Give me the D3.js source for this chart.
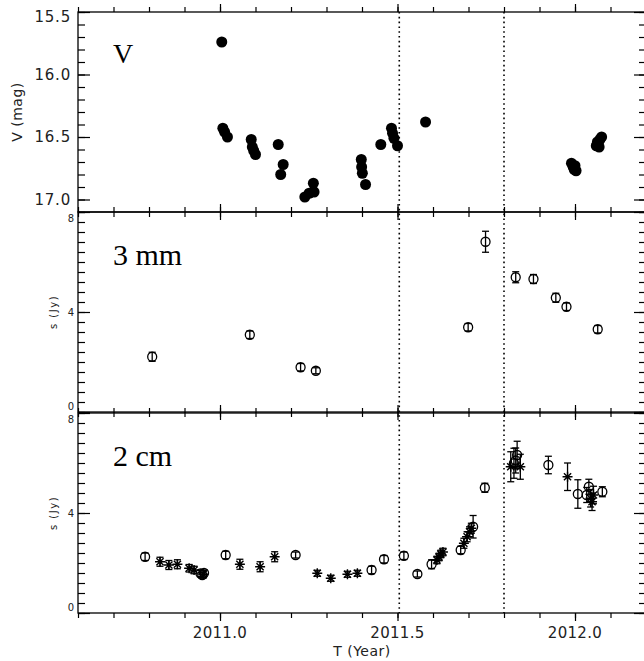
<!DOCTYPE html>
<html>
<head>
<meta charset="utf-8">
<script src="https://cdn.jsdelivr.net/npm/d3@7"></script>
<style>
  body { margin: 0; background: #fff; }
  text { font-family: "DejaVu Sans", sans-serif; fill: #222; }
  .lbl { font-family: "Liberation Serif", serif; fill: #000; }
</style>
</head>
<body>
<svg id="chart" width="644" height="661"></svg>
<script>
const width = 644;
const height = 661;

// V band magnitudes
const vTime = [2011.005, 2011.008, 2011.013, 2011.021, 2011.088, 2011.091, 2011.095, 2011.100,
    2011.164, 2011.178, 2011.171, 2011.239, 2011.251, 2011.265, 2011.263,
    2011.398, 2011.399, 2011.401, 2011.410, 2011.453, 2011.483, 2011.486, 2011.490, 2011.500,
    2011.579, 2011.990, 2011.995, 2012.000, 2012.003, 2011.998,
    2012.060, 2012.065, 2012.070, 2012.075, 2012.068, 2012.063];
const vMag = [15.74, 16.43, 16.46, 16.50, 16.52, 16.58, 16.61, 16.64,
    16.56, 16.72, 16.80, 16.98, 16.95, 16.94, 16.87,
    16.68, 16.74, 16.79, 16.88, 16.56, 16.43, 16.47, 16.51, 16.57,
    16.38, 16.71, 16.74, 16.73, 16.77, 16.76,
    16.57, 16.55, 16.52, 16.50, 16.58, 16.54];

// 3 mm flux density
const mm3Time = [2010.809, 2011.084, 2011.227, 2011.270, 2011.699, 2011.748, 2011.833, 2011.883, 2011.946, 2011.976, 2012.064];
const mm3Flux = [2.21, 3.09, 1.79, 1.65, 3.39, 6.81, 5.39, 5.32, 4.57, 4.21, 3.31];
const mm3Err = [0.18, 0.15, 0.15, 0.12, 0.15, 0.42, 0.22, 0.18, 0.18, 0.15, 0.15];

// 2 cm flux density ("o" and "*" are two data sets)
const cm2Time = [2010.789, 2010.831, 2010.856, 2010.880, 2010.913, 2010.927, 2010.945, 2010.950, 2010.953, 2010.955,
    2011.016, 2011.056, 2011.113, 2011.154, 2011.213, 2011.274, 2011.312, 2011.359, 2011.387,
    2011.427, 2011.462, 2011.518, 2011.556, 2011.596, 2011.611, 2011.617, 2011.622, 2011.628,
    2011.678, 2011.687, 2011.696, 2011.703, 2011.708, 2011.713, 2011.746,
    2011.819, 2011.828, 2011.837, 2011.833, 2011.846, 2011.925, 2011.979, 2012.008,
    2012.039, 2012.033, 2012.044, 2012.048, 2012.052, 2012.077];
const cm2Flux = [2.25, 2.05, 1.92, 1.95, 1.79, 1.72, 1.58, 1.52, 1.55, 1.60,
    2.32, 1.95, 1.85, 2.25, 2.32, 1.59, 1.39, 1.55, 1.59,
    1.72, 2.15, 2.29, 1.56, 1.95, 2.12, 2.24, 2.36, 2.44,
    2.52, 2.79, 3.05, 3.25, 3.39, 3.45, 5.01,
    5.85, 5.99, 6.32, 6.10, 5.85, 5.92, 5.45, 4.76,
    5.05, 4.72, 4.59, 4.45, 4.72, 4.85];
const cm2Err = [0.15, 0.18, 0.18, 0.18, 0.15, 0.15, 0.12, 0.12, 0.15, 0.12,
    0.15, 0.2, 0.2, 0.2, 0.12, 0.12, 0.12, 0.12, 0.12,
    0.15, 0.15, 0.15, 0.12, 0.18, 0.15, 0.15, 0.15, 0.15,
    0.15, 0.2, 0.2, 0.2, 0.2, 0.45, 0.18,
    0.6, 0.6, 0.55, 0.5, 0.5, 0.35, 0.55, 0.57,
    0.3, 0.3, 0.35, 0.35, 0.35, 0.2];
const cm2Type = ["o", "*", "*", "*", "*", "*", "o", "o", "*", "o",
    "o", "*", "*", "*", "o", "*", "*", "*", "*",
    "o", "o", "o", "o", "o", "*", "*", "*", "*",
    "o", "*", "*", "*", "*", "o", "o",
    "*", "o", "o", "o", "*", "o", "*", "o",
    "o", "o", "*", "*", "*", "o"];

const xTicks = [2011.0, 2011.5, 2012.0];
const xTickLabels = ["2011.0", "2011.5", "2012.0"];
const vTicks = [15.5, 16.0, 16.5, 17.0];
const vTickLabels = ["15.5", "16.0", "16.5", "17.0"];
const sTicks = [0, 4, 8];
const markerLines = [2011.505, 2011.80];

const svg = d3.select("#chart");
svg.append("rect").attr("width", width).attr("height", height).attr("fill", "#fff");

const left = 78, right = 646;
const x = d3.scaleLinear().domain([2010.6, 2012.2]).range([left, right]);

const panels = [
    { top: 12, bottom: 212, y: d3.scaleLinear().domain([15.5, 17.1]).range([12, 212]),
      major: vTicks, minor: d3.range(15.5, 17.101, 0.1), labels: vTickLabels, label: "V" },
    { top: 212, bottom: 412, y: d3.scaleLinear().domain([0, 8]).range([412, 212]),
      major: sTicks, minor: d3.range(0, 8.01, 0.4), labels: sTicks.map(String), label: "3 mm" },
    { top: 413, bottom: 613, y: d3.scaleLinear().domain([0, 8]).range([613, 413]),
      major: sTicks, minor: d3.range(0, 8.01, 0.4), labels: sTicks.map(String), label: "2 cm" }
];

const xMinor = d3.range(2010.6, 2012.201, 0.1);

function styleAxis(g) {
    g.select(".domain").remove();
    g.selectAll(".tick line").attr("stroke", "#000").attr("stroke-width", 1.2);
}

panels.forEach((p, i) => {
    // frame
    svg.append("rect")
        .attr("x", left).attr("y", p.top)
        .attr("width", right - left).attr("height", p.bottom - p.top)
        .attr("fill", "none").attr("stroke", "#000").attr("stroke-width", 1.3);

    // x ticks, inward on both edges
    [[d3.axisBottom, p.top], [d3.axisTop, p.bottom]].forEach(([ax, yy]) => {
        svg.append("g").attr("transform", `translate(0,${yy})`)
            .call(ax(x).tickValues(xMinor).tickSize(-5).tickFormat(""))
            .call(styleAxis);
        svg.append("g").attr("transform", `translate(0,${yy})`)
            .call(ax(x).tickValues(xTicks).tickSize(-8).tickFormat(""))
            .call(styleAxis);
    });

    // y ticks, inward on both edges
    svg.append("g").attr("transform", `translate(${left},0)`)
        .call(d3.axisLeft(p.y).tickValues(p.minor).tickSize(-7).tickFormat(""))
        .call(styleAxis);
    svg.append("g").attr("transform", `translate(${right},0)`)
        .call(d3.axisRight(p.y).tickValues(p.minor).tickSize(-7).tickFormat(""))
        .call(styleAxis);
    svg.append("g").attr("transform", `translate(${left},0)`)
        .call(d3.axisLeft(p.y).tickValues(p.major).tickSize(-12).tickFormat(""))
        .call(styleAxis);
    svg.append("g").attr("transform", `translate(${right},0)`)
        .call(d3.axisRight(p.y).tickValues(p.major).tickSize(-12).tickFormat(""))
        .call(styleAxis);

    // y tick labels
    p.major.forEach((v, k) => {
        let yy = p.y(v);
        if (i === 0) {
            if (k === 0) yy += 5;
            svg.append("text").attr("x", 71).attr("y", yy).attr("dy", "0.36em")
                .attr("text-anchor", "end").attr("font-size", 15)
                .attr("letter-spacing", 0.8).text(p.labels[k]);
        } else {
            if (k === 0) yy -= 6;
            if (k === p.major.length - 1) yy += 6;
            svg.append("text").attr("x", 74).attr("y", yy).attr("dy", "0.36em")
                .attr("text-anchor", "end").attr("font-size", 10).text(p.labels[k]);
        }
    });

    // panel label
    svg.append("text").attr("class", "lbl")
        .attr("x", 113).attr("y", i === 0 ? 63 : p.top + 53)
        .attr("font-size", i === 0 ? 28 : 30)
        .text(p.label);
});

// y axis titles
svg.append("text")
    .attr("transform", `translate(22,112) rotate(-90)`)
    .attr("text-anchor", "middle").attr("font-size", 14).attr("letter-spacing", 0.5)
    .text("V (mag)");
[panels[1], panels[2]].forEach(p => {
    svg.append("text")
        .attr("transform", `translate(57,${(p.top + p.bottom) / 2}) rotate(-90)`)
        .attr("text-anchor", "middle").attr("font-size", 10).attr("letter-spacing", 1.5)
        .text("s (Jy)");
});

// x tick labels & title
xTicks.forEach((v, k) => {
    svg.append("text").attr("x", x(v)).attr("y", 638)
        .attr("text-anchor", "middle").attr("font-size", 15).attr("letter-spacing", 0.3)
        .text(xTickLabels[k]);
});
svg.append("text").attr("x", (left + right) / 2).attr("y", 656)
    .attr("text-anchor", "middle").attr("font-size", 14).attr("letter-spacing", 0.5)
    .text("T (Year)");

// dotted vertical lines
svg.selectAll(".mark-line")
    .data(markerLines)
    .enter().append("line")
    .attr("class", "mark-line")
    .attr("x1", d => x(d)).attr("x2", d => x(d))
    .attr("y1", 12).attr("y2", 613)
    .attr("stroke", "#000").attr("stroke-width", 1.6)
    .attr("stroke-dasharray", "1.6,3.2");

// V panel: filled circles
const vData = vTime.map((t, k) => ({ t, v: vMag[k] }));
svg.append("g").selectAll("circle")
    .data(vData)
    .enter().append("circle")
    .attr("cx", d => x(d.t)).attr("cy", d => panels[0].y(d.v))
    .attr("r", 5.5).attr("fill", "#000");

// error bars helper
function drawErr(g, data, y) {
    const eb = g.selectAll(".eb").data(data).enter().append("g")
        .attr("stroke", "#000").attr("stroke-width", 1.3).attr("fill", "none");
    eb.append("line")
        .attr("x1", d => x(d.t)).attr("x2", d => x(d.t))
        .attr("y1", d => y(d.v - d.e)).attr("y2", d => y(d.v + d.e));
    eb.append("line")
        .attr("x1", d => x(d.t) - 3.5).attr("x2", d => x(d.t) + 3.5)
        .attr("y1", d => y(d.v - d.e)).attr("y2", d => y(d.v - d.e));
    eb.append("line")
        .attr("x1", d => x(d.t) - 3.5).attr("x2", d => x(d.t) + 3.5)
        .attr("y1", d => y(d.v + d.e)).attr("y2", d => y(d.v + d.e));
}

function drawCircles(g, data, y) {
    g.selectAll(".oc").data(data).enter().append("circle")
        .attr("cx", d => x(d.t)).attr("cy", d => y(d.v))
        .attr("r", 4.5).attr("fill", "none")
        .attr("stroke", "#000").attr("stroke-width", 1.3);
}

function drawStars(g, data, y) {
    const s = 5;
    g.selectAll(".st").data(data).enter().append("path")
        .attr("d", d => {
            const cx = x(d.t), cy = y(d.v), q = s * 0.72;
            return `M${cx - s},${cy}L${cx + s},${cy}M${cx},${cy - s}L${cx},${cy + s}` +
                `M${cx - q},${cy - q}L${cx + q},${cy + q}M${cx - q},${cy + q}L${cx + q},${cy - q}`;
        })
        .attr("stroke", "#000").attr("stroke-width", 1.4).attr("fill", "none");
}

// 3 mm panel
const mmData = mm3Time.map((t, k) => ({ t, v: mm3Flux[k], e: mm3Err[k] }));
const gMm = svg.append("g");
drawErr(gMm, mmData, panels[1].y);
drawCircles(gMm, mmData, panels[1].y);

// 2 cm panel
const cmData = cm2Time.map((t, k) => ({ t, v: cm2Flux[k], e: cm2Err[k], type: cm2Type[k] }));
const gCm = svg.append("g");
drawErr(gCm, cmData, panels[2].y);
drawCircles(gCm, cmData.filter(d => d.type === "o"), panels[2].y);
drawStars(gCm, cmData.filter(d => d.type === "*"), panels[2].y);
</script>
</body>
</html>
